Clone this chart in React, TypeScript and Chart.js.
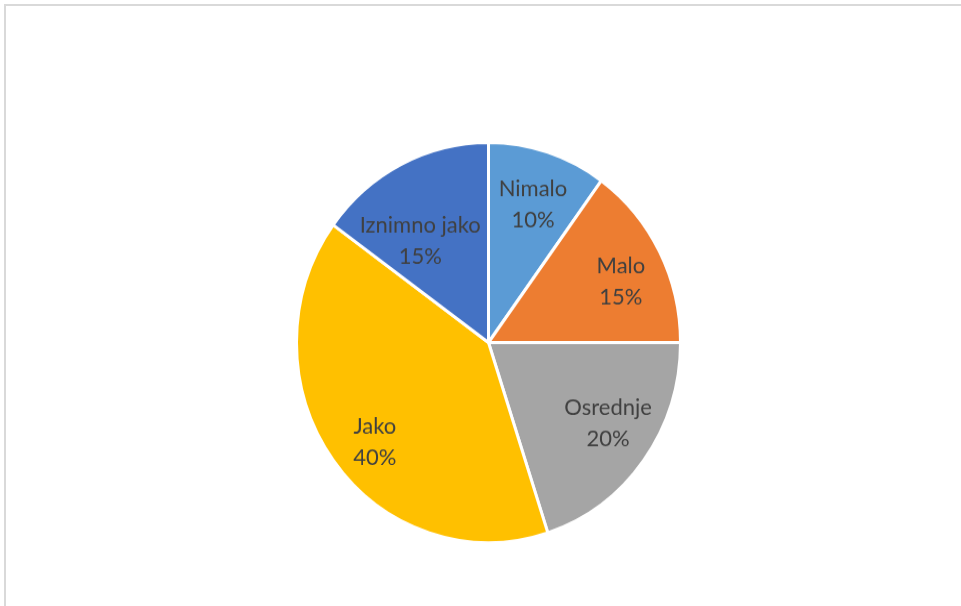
import React, { useEffect, useRef } from "react";
import { Chart, registerables } from "chart.js";

Chart.register(...registerables);

const categories = ["Nimalo", "Malo", "Osrednje", "Jako", "Iznimno jako"];
const values = [10, 15, 20, 40, 15];
const percentLabels = ["10%", "15%", "20%", "40%", "15%"];
const colors = ["#5B9BD5", "#ED7D31", "#A5A5A5", "#FFC000", "#4472C4"];

const labelRadius = [0.73, 0.755, 0.743, 0.773, 0.62];
const labelShiftDeg = [0.5, 3, -3, -4, -8];

const labelPlugin = {
  id: "pieLabels",
  afterDatasetsDraw(chart: any) {
    const meta = chart.getDatasetMeta(0);
    const ctx = chart.ctx;
    ctx.save();
    ctx.fillStyle = "#404040";
    ctx.font = "22px Lato";
    ctx.textAlign = "center";
    ctx.textBaseline = "middle";
    meta.data.forEach((arc: any, i: number) => {
      const p = arc.getProps(["x", "y", "startAngle", "endAngle", "outerRadius"], true);
      const mid = (p.startAngle + p.endAngle) / 2 + (labelShiftDeg[i] * Math.PI) / 180;
      const r = p.outerRadius * labelRadius[i];
      const cx = p.x + Math.cos(mid) * r;
      const cy = p.y + Math.sin(mid) * r;
      ctx.fillText(categories[i], cx, cy - 15);
      ctx.fillText(percentLabels[i], cx, cy + 15);
    });
    ctx.restore();
  },
};

export default function App() {
  const ref = useRef<HTMLCanvasElement>(null);
  useEffect(() => {
    if (!ref.current) return;
    const chart = new Chart(ref.current, {
      type: "pie",
      data: {
        labels: categories,
        datasets: [
          {
            data: values,
            backgroundColor: colors,
            borderColor: "#ffffff",
            borderWidth: 3,
            hoverOffset: 0,
          },
        ],
      },
      options: {
        responsive: false,
        animation: false,
        layout: { padding: { left: 295, right: 279, top: 149, bottom: 70 } },
        plugins: {
          legend: { display: false },
          tooltip: { enabled: false },
        },
      },
      plugins: [labelPlugin],
    });
    return () => chart.destroy();
  }, []);

  return (
    <div
      style={{
        position: "fixed",
        left: 0,
        top: 0,
        width: 961,
        height: 606,
        overflow: "hidden",
        background: "#ffffff",
      }}
    >
      <div
        style={{
          position: "absolute",
          left: 4,
          top: 4,
          width: 980,
          height: 620,
          borderTop: "2px solid #d9d9d9",
          borderLeft: "2px solid #d9d9d9",
        }}
      />
      <canvas
        ref={ref}
        width={961}
        height={606}
        style={{
          position: "absolute",
          left: 0,
          top: 0,
          display: "block",
          transform: "scaleY(1.042)",
          transformOrigin: "488px 342px",
        }}
      />
    </div>
  );
}
